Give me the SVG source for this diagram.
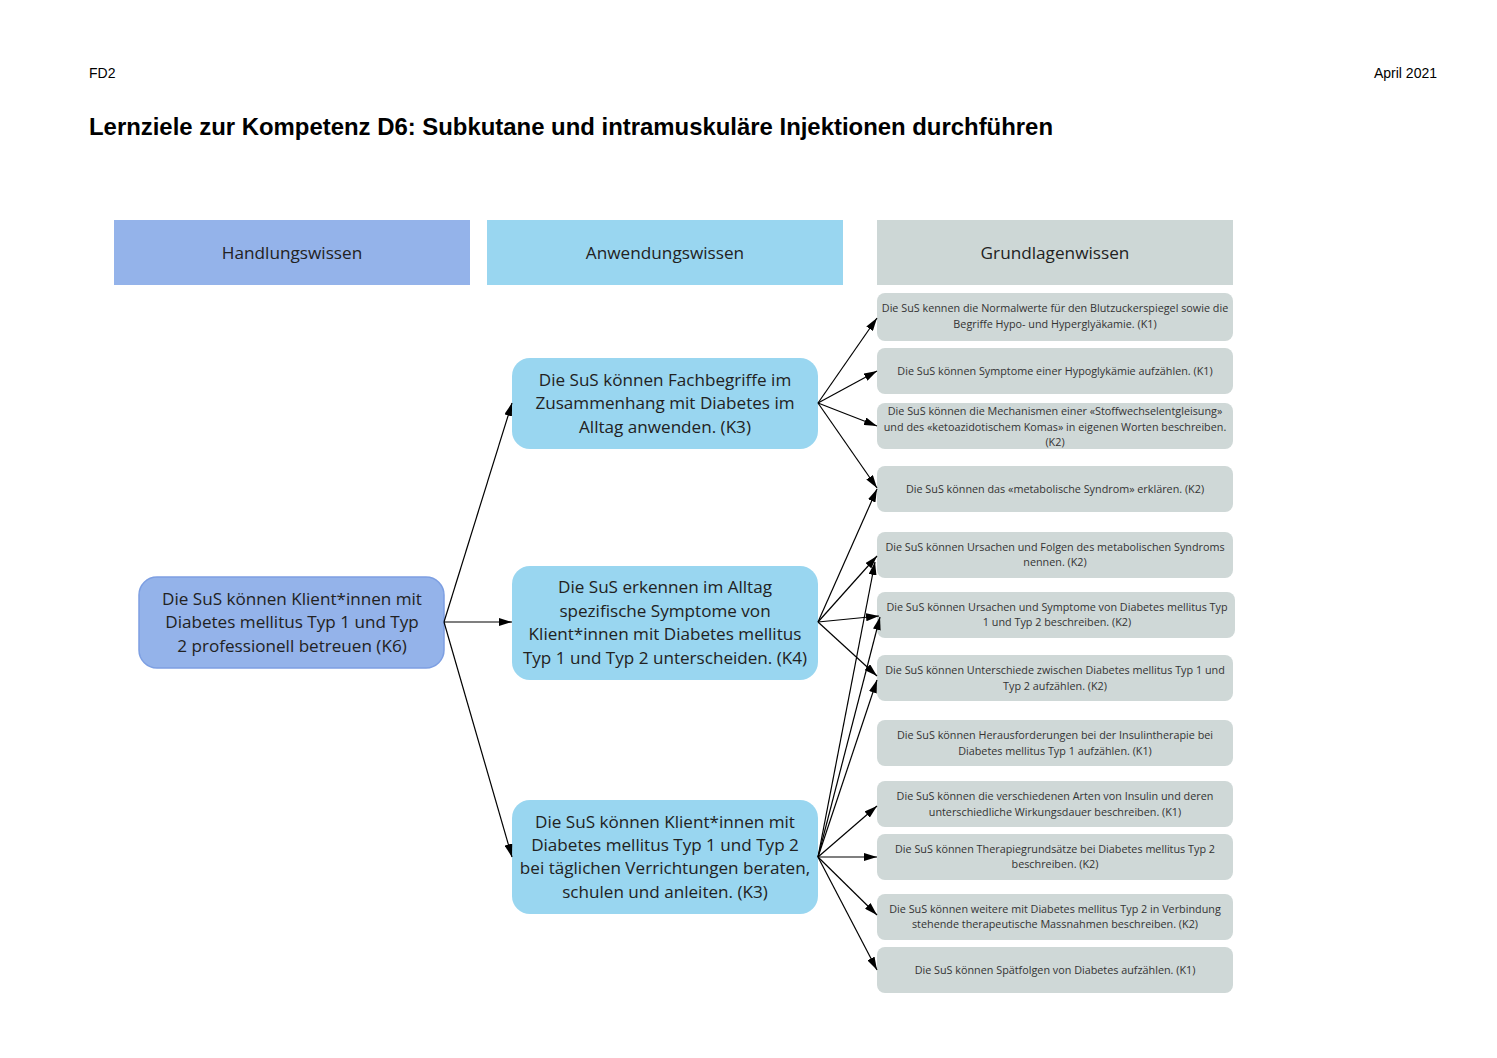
<svg xmlns="http://www.w3.org/2000/svg" width="1497" height="1058" viewBox="0 0 1497 1058">
<defs>
<marker id="ah" viewBox="0 0 13 8" refX="13" refY="4" markerWidth="13" markerHeight="8" markerUnits="userSpaceOnUse" orient="auto">
<path d="M0,0 L13,4 L0,8 z" fill="#000"/>
</marker>
<style>
.hdr{font-family:"Open Sans","Liberation Sans",sans-serif;font-size:17.2px;fill:#222;text-anchor:middle}
.nt{font-family:"Open Sans","Liberation Sans",sans-serif;font-size:17.1px;fill:#222;text-anchor:middle}
.st{font-family:"Open Sans","Liberation Sans",sans-serif;font-size:10.8px;fill:#333;text-anchor:middle}
.sb{fill:#cfd8d7}
.mid{fill:#99d6f0}
.conn line{stroke:#000;stroke-width:1.2;marker-end:url(#ah)}
</style>
</defs>
<rect width="1497" height="1058" fill="#fff"/>
<text x="89" y="78" font-family="Liberation Sans, sans-serif" font-size="14" fill="#000">FD2</text>
<text x="1437" y="78" font-family="Liberation Sans, sans-serif" font-size="14" fill="#000" text-anchor="end">April 2021</text>
<text x="89" y="135" font-family="Liberation Sans, sans-serif" font-size="24" font-weight="bold" fill="#000" textLength="964" lengthAdjust="spacingAndGlyphs">Lernziele zur Kompetenz D6: Subkutane und intramuskuläre Injektionen durchführen</text>

<g id="hdr-handlung"><rect x="114" y="220" width="356" height="65" fill="#94b3ea"/><text class="hdr" x="292" y="259">Handlungswissen</text></g>
<g id="hdr-anwendung"><rect x="487" y="220" width="356" height="65" fill="#99d6f0"/><text class="hdr" x="665" y="259">Anwendungswissen</text></g>
<g id="hdr-grundlagen"><rect x="877" y="220" width="356" height="65" fill="#cdd7d6"/><text class="hdr" x="1055" y="259">Grundlagenwissen</text></g>

<g id="k6"><rect x="139" y="577" width="305" height="91" rx="18" fill="#94b3ea" stroke="#7d9fe2" stroke-width="1.5"/>
<text class="nt" x="292" y="605">Die SuS können Klient*innen mit</text>
<text class="nt" x="292" y="628">Diabetes mellitus Typ 1 und Typ</text>
<text class="nt" x="292" y="652">2 professionell betreuen (K6)</text></g>

<g id="a1"><rect class="mid" x="512" y="358" width="306" height="91" rx="18"/>
<text class="nt" x="665" y="386">Die SuS können Fachbegriffe im</text>
<text class="nt" x="665" y="409">Zusammenhang mit Diabetes im</text>
<text class="nt" x="665" y="433">Alltag anwenden. (K3)</text></g>

<g id="a2"><rect class="mid" x="512" y="566" width="306" height="114" rx="18"/>
<text class="nt" x="665" y="593">Die SuS erkennen im Alltag</text>
<text class="nt" x="665" y="617">spezifische Symptome von</text>
<text class="nt" x="665" y="640">Klient*innen mit Diabetes mellitus</text>
<text class="nt" x="665" y="664">Typ 1 und Typ 2 unterscheiden. (K4)</text></g>

<g id="a3"><rect class="mid" x="512" y="800" width="306" height="114" rx="18"/>
<text class="nt" x="665" y="828">Die SuS können Klient*innen mit</text>
<text class="nt" x="665" y="851">Diabetes mellitus Typ 1 und Typ 2</text>
<text class="nt" x="665" y="874">bei täglichen Verrichtungen beraten,</text>
<text class="nt" x="665" y="898">schulen und anleiten. (K3)</text></g>

<g id="g1"><rect class="sb" x="877" y="293" width="356" height="48" rx="8"/><text class="st" x="1055" y="312">Die SuS kennen die Normalwerte für den Blutzuckerspiegel sowie die</text><text class="st" x="1055" y="328">Begriffe Hypo- und Hyperglyäkamie. (K1)</text></g>
<g id="g2"><rect class="sb" x="877" y="348" width="356" height="46" rx="8"/><text class="st" x="1055" y="375">Die SuS können Symptome einer Hypoglykämie aufzählen. (K1)</text></g>
<g id="g3"><rect class="sb" x="877" y="403" width="356" height="46" rx="8"/><text class="st" x="1055" y="415">Die SuS können die Mechanismen einer «Stoffwechselentgleisung»</text><text class="st" x="1055" y="431">und des «ketoazidotischem Komas» in eigenen Worten beschreiben.</text><text class="st" x="1055" y="446">(K2)</text></g>
<g id="g4"><rect class="sb" x="877" y="466" width="356" height="46" rx="8"/><text class="st" x="1055" y="493">Die SuS können das «metabolische Syndrom» erklären. (K2)</text></g>
<g id="g5"><rect class="sb" x="877" y="532" width="356" height="46" rx="8"/><text class="st" x="1055" y="551">Die SuS können Ursachen und Folgen des metabolischen Syndroms</text><text class="st" x="1055" y="566">nennen.  (K2)</text></g>
<g id="g6"><rect class="sb" x="877" y="592" width="358" height="46" rx="8"/><text class="st" x="1057" y="611">Die SuS können Ursachen und Symptome von Diabetes mellitus Typ</text><text class="st" x="1057" y="626">1 und Typ 2 beschreiben. (K2)</text></g>
<g id="g7"><rect class="sb" x="877" y="655" width="356" height="46" rx="8"/><text class="st" x="1055" y="674">Die SuS können Unterschiede zwischen Diabetes mellitus Typ 1 und</text><text class="st" x="1055" y="690">Typ 2 aufzählen. (K2)</text></g>
<g id="g8"><rect class="sb" x="877" y="720" width="356" height="46" rx="8"/><text class="st" x="1055" y="739">Die SuS können Herausforderungen bei der Insulintherapie bei</text><text class="st" x="1055" y="755">Diabetes mellitus Typ 1 aufzählen. (K1)</text></g>
<g id="g9"><rect class="sb" x="877" y="781" width="356" height="46" rx="8"/><text class="st" x="1055" y="800">Die SuS können die verschiedenen Arten von Insulin und deren</text><text class="st" x="1055" y="816">unterschiedliche Wirkungsdauer beschreiben. (K1)</text></g>
<g id="g10"><rect class="sb" x="877" y="834" width="356" height="46" rx="8"/><text class="st" x="1055" y="853">Die SuS können Therapiegrundsätze bei Diabetes mellitus Typ 2</text><text class="st" x="1055" y="868">beschreiben. (K2)</text></g>
<g id="g11"><rect class="sb" x="877" y="894" width="356" height="46" rx="8"/><text class="st" x="1055" y="913">Die SuS können weitere mit Diabetes mellitus Typ 2 in Verbindung</text><text class="st" x="1055" y="928">stehende therapeutische Massnahmen beschreiben. (K2)</text></g>
<g id="g12"><rect class="sb" x="877" y="947" width="356" height="46" rx="8"/><text class="st" x="1055" y="974">Die SuS können Spätfolgen von Diabetes aufzählen. (K1)</text></g>

<g id="connectors" class="conn">
<line x1="444" y1="622" x2="512" y2="403"/>
<line x1="444" y1="622" x2="512" y2="622"/>
<line x1="444" y1="622" x2="512" y2="857"/>
<line x1="818" y1="403" x2="877" y2="318"/>
<line x1="818" y1="403" x2="877" y2="371"/>
<line x1="818" y1="403" x2="877" y2="426"/>
<line x1="818" y1="403" x2="877" y2="488"/>
<line x1="818" y1="622" x2="877" y2="489"/>
<line x1="818" y1="622" x2="877" y2="556"/>
<line x1="818" y1="622" x2="879" y2="616"/>
<line x1="818" y1="622" x2="877" y2="676"/>
<line x1="818" y1="857" x2="875" y2="562"/>
<line x1="818" y1="857" x2="880" y2="617"/>
<line x1="818" y1="857" x2="877" y2="680"/>
<line x1="818" y1="857" x2="877" y2="806"/>
<line x1="818" y1="857" x2="877" y2="857"/>
<line x1="818" y1="857" x2="877" y2="915"/>
<line x1="818" y1="857" x2="877" y2="970"/>
</g>
</svg>
